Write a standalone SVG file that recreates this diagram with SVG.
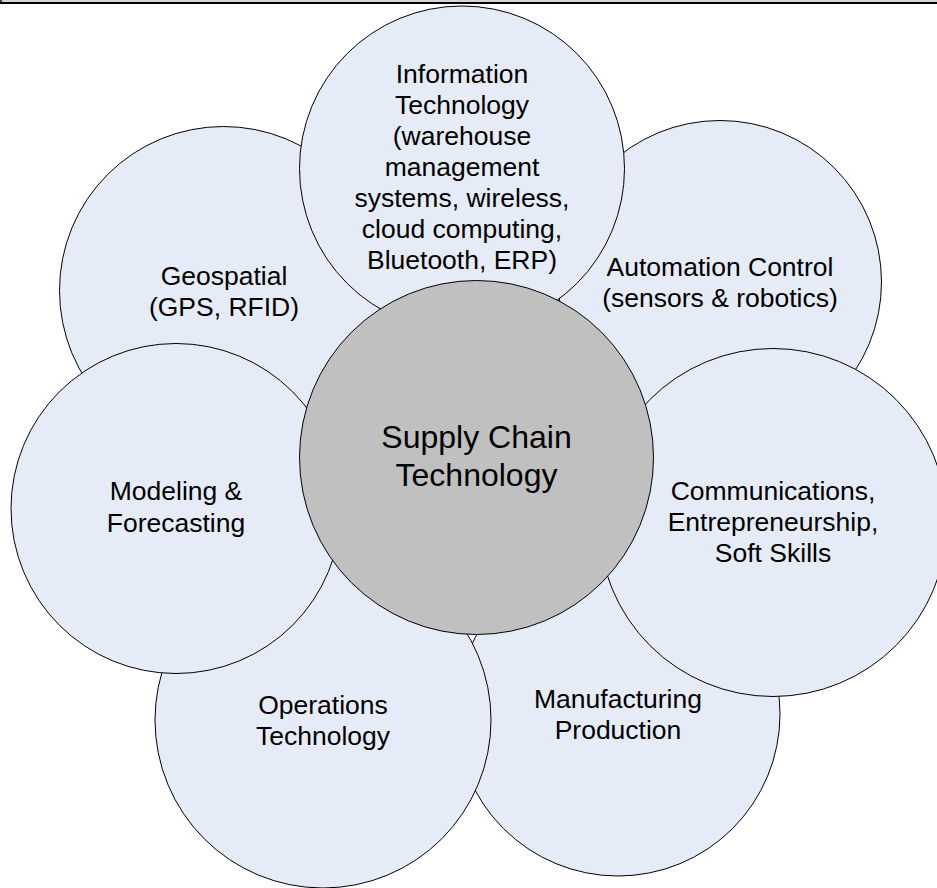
<svg xmlns="http://www.w3.org/2000/svg" width="937" height="888" viewBox="0 0 937 888">
  <style>
    .petal { fill: #E6ECF7; stroke: #000000; stroke-width: 1; }
    .hub { fill: #C0C0C0; stroke: #000000; stroke-width: 1; }
    .lbl { font-family: "Liberation Sans", Arial, sans-serif; font-size: 26.5px; fill: #000000; text-anchor: middle; }
    .hublbl { font-family: "Liberation Sans", Arial, sans-serif; font-size: 32px; fill: #000000; text-anchor: middle; }
  </style>
  <rect x="0" y="0" width="937" height="888" fill="#FFFFFF"/>
  <rect x="0" y="0" width="937" height="2" fill="#D4D4D4"/>
  <rect x="0" y="2" width="937" height="2" fill="#000000"/>
  <rect x="0" y="0" width="2" height="2" fill="#404040"/>

  <g id="connectors"/>

  <g id="manufacturing">
    <circle class="petal" cx="618" cy="714" r="162"/>
    <text class="lbl" x="618" y="707.5">Manufacturing</text>
    <text class="lbl" x="618" y="738.5">Production</text>
  </g>
  <g id="operations">
    <circle class="petal" cx="323" cy="720" r="168"/>
    <text class="lbl" x="323" y="713.5">Operations</text>
    <text class="lbl" x="323" y="744.5">Technology</text>
  </g>
  <g id="geospatial">
    <circle class="petal" cx="223.5" cy="290.5" r="164"/>
    <text class="lbl" x="224" y="284.5">Geospatial</text>
    <text class="lbl" x="224" y="316">(GPS, RFID)</text>
  </g>
  <g id="automation">
    <circle class="petal" cx="720" cy="282" r="161.5"/>
    <text class="lbl" x="720" y="276">Automation Control</text>
    <text class="lbl" x="720" y="307">(sensors &amp; robotics)</text>
  </g>
  <g id="modeling">
    <circle class="petal" cx="176" cy="508.5" r="165"/>
    <text class="lbl" x="176" y="500">Modeling &amp;</text>
    <text class="lbl" x="176" y="531.5">Forecasting</text>
  </g>
  <g id="communications">
    <circle class="petal" cx="773" cy="522.5" r="174"/>
    <text class="lbl" x="773" y="499.5">Communications,</text>
    <text class="lbl" x="773" y="530.5">Entrepreneurship,</text>
    <text class="lbl" x="773" y="561.5">Soft Skills</text>
  </g>
  <g id="information-technology">
    <circle class="petal" cx="462" cy="168.5" r="162.5"/>
    <text class="lbl" x="462" y="83">Information</text>
    <text class="lbl" x="462" y="114">Technology</text>
    <text class="lbl" x="462" y="145">(warehouse</text>
    <text class="lbl" x="462" y="176">management</text>
    <text class="lbl" x="462" y="207">systems, wireless,</text>
    <text class="lbl" x="462" y="238">cloud computing,</text>
    <text class="lbl" x="462" y="269">Bluetooth, ERP)</text>
  </g>
  <g id="supply-chain-technology">
    <circle class="hub" cx="476.5" cy="457.5" r="177"/>
    <text class="hublbl" x="476.5" y="447.5">Supply Chain</text>
    <text class="hublbl" x="476.5" y="486">Technology</text>
  </g>
</svg>
